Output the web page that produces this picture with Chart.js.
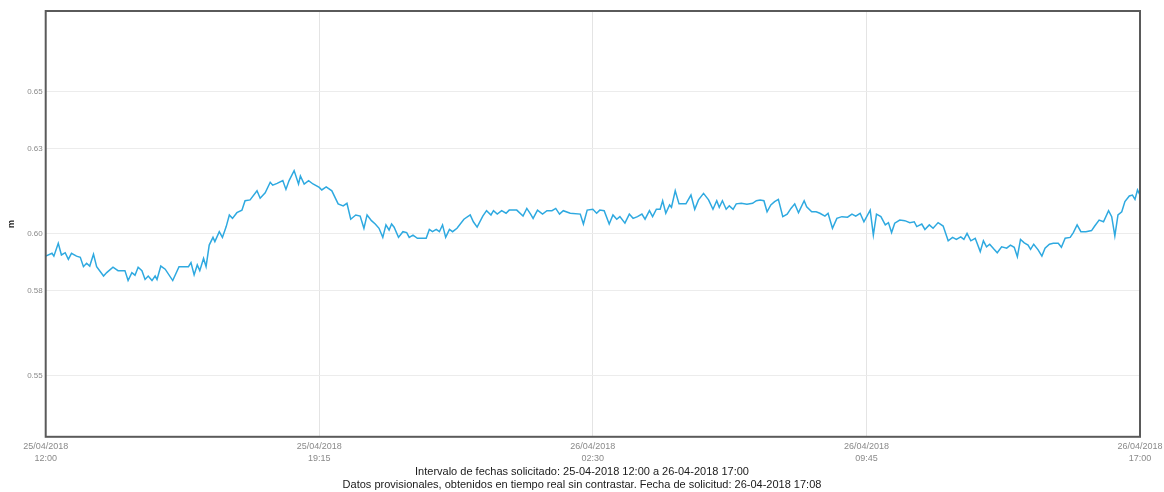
<!DOCTYPE html>
<html>
<head>
<meta charset="utf-8">
<script src="https://cdn.jsdelivr.net/npm/chart.js@4"></script>
<style>
  html, body { margin: 0; padding: 0; background: #ffffff; }
  #wrap { width: 1164px; height: 492px; position: relative; }
</style>
</head>
<body>
<div id="wrap"><canvas id="c"></canvas></div>
<script>
// Minutes elapsed since 25/04/2018 12:00
const minutes = [
  0,10,13,20,25,31,36,41,49,55,60,65,70,76,81,92,97,107,115,126,131,137,142,147,153,158,163,169,174,177,
  183,190,202,212,227,231,236,241,245,251,255,260,266,269,276,281,287,292,297,304,312,317,325,336,341,349,357,361,368,377,
  382,387,395,402,405,411,418,425,435,439,446,455,465,473,479,485,493,500,506,511,518,524,530,536,541,546,550,554,561,568,
  574,578,584,591,605,610,615,621,626,631,636,642,647,654,665,675,680,686,695,701,708,712,718,725,732,737,749,759,765,771,
  775,782,790,797,805,811,817,823,834,850,855,861,870,876,881,888,896,902,908,913,921,928,934,941,948,953,960,965,971,977,
  981,986,992,995,1001,1007,1018,1026,1032,1038,1046,1054,1061,1067,1071,1076,1082,1087,1093,1098,1106,1115,1124,1130,1136,1142,1147,1153,1159,1165,
  1172,1179,1185,1191,1197,1206,1210,1218,1225,1231,1239,1244,1251,1258,1266,1275,1282,1288,1295,1301,1311,1316,1321,1328,1335,1340,1345,1350,1358,1366,
  1374,1381,1385,1393,1398,1405,1411,1419,1427,1435,1442,1448,1455,1460,1465,1471,1478,1486,1491,1496,1501,1508,1513,1520,1528,1534,1540,1545,1550,1556,
  1562,1566,1571,1578,1584,1589,1596,1602,1610,1615,1621,1629,1634,1640,1646,1654,1663,1668,1675,1682,1690,1695,1700,1705,1711,1716,1723,1728,1732,1736,
  1740
];
// Water level (m)
const levels = [
  0.5921,0.5931,0.5921,0.5966,0.5925,0.5933,0.5910,0.5931,0.5921,0.5917,0.5884,0.5896,0.5886,0.5928,0.5884,0.5851,0.5863,0.5882,0.5870,0.5870,0.5835,0.5863,0.5854,0.5882,0.5870,0.5839,0.5851,0.5835,0.5851,0.5839,
  0.5886,0.5875,0.5835,0.5884,0.5884,0.5898,0.5855,0.5890,0.5870,0.5913,0.5884,0.5960,0.5987,0.5972,0.6007,0.5987,0.6025,0.6066,0.6054,0.6074,0.6083,0.6116,0.6119,0.6151,0.6125,0.6144,0.6181,0.6171,0.6177,0.6187,
  0.6156,0.6187,0.6222,0.6175,0.6203,0.6175,0.6187,0.6175,0.6163,0.6154,0.6165,0.6151,0.6105,0.6098,0.6107,0.6051,0.6066,0.6062,0.6019,0.6066,0.6046,0.6034,0.6019,0.5987,0.6031,0.6013,0.6034,0.6023,0.5987,0.6007,
  0.6004,0.5987,0.5995,0.5984,0.5984,0.6015,0.6007,0.6015,0.6007,0.6031,0.5987,0.6015,0.6007,0.6019,0.6051,0.6066,0.6042,0.6023,0.6062,0.6081,0.6066,0.6081,0.6069,0.6081,0.6072,0.6083,0.6083,0.6062,0.6089,0.6069,
  0.6054,0.6083,0.6069,0.6081,0.6081,0.6089,0.6069,0.6081,0.6072,0.6069,0.6034,0.6083,0.6086,0.6072,0.6083,0.6081,0.6034,0.6066,0.6051,0.6060,0.6037,0.6069,0.6054,0.6060,0.6069,0.6051,0.6081,0.6060,0.6086,0.6086,
  0.6116,0.6072,0.6101,0.6093,0.6151,0.6105,0.6105,0.6136,0.6086,0.6119,0.6142,0.6119,0.6086,0.6116,0.6093,0.6116,0.6086,0.6098,0.6086,0.6105,0.6107,0.6104,0.6107,0.6116,0.6119,0.6116,0.6077,0.6101,0.6113,0.6121,
  0.6060,0.6069,0.6089,0.6105,0.6074,0.6116,0.6095,0.6077,0.6077,0.6072,0.6062,0.6072,0.6019,0.6054,0.6060,0.6058,0.6069,0.6062,0.6072,0.6042,0.6083,0.5995,0.6069,0.6060,0.6031,0.6039,0.6004,0.6037,0.6048,0.6046,
  0.6039,0.6042,0.6025,0.6034,0.6015,0.6031,0.6019,0.6039,0.6027,0.5975,0.5987,0.5980,0.5989,0.5980,0.6001,0.5975,0.5984,0.5937,0.5975,0.5954,0.5963,0.5945,0.5933,0.5954,0.5949,0.5960,0.5952,0.5919,0.5980,0.5968,
  0.5960,0.5945,0.5963,0.5943,0.5921,0.5949,0.5963,0.5966,0.5966,0.5952,0.5984,0.5987,0.6004,0.6031,0.6007,0.6007,0.6011,0.6027,0.6048,0.6042,0.6081,0.6060,0.5992,0.6066,0.6077,0.6113,0.6133,0.6136,0.6121,0.6154,
  0.6136
];
const xTickMinutes = [0, 435, 870, 1305, 1740];
const xTickLabels = [
  ["25/04/2018", "12:00"],
  ["25/04/2018", "19:15"],
  ["26/04/2018", "02:30"],
  ["26/04/2018", "09:45"],
  ["26/04/2018", "17:00"]
];
const yTicks = [0.55, 0.58, 0.60, 0.63, 0.65];
const yMin = 0.5285, yMax = 0.6784;
const footerLines = [
  "Intervalo de fechas solicitado: 25-04-2018 12:00 a 26-04-2018 17:00",
  "Datos provisionales, obtenidos en tiempo real sin contrastar. Fecha de solicitud: 26-04-2018 17:08"
];

const frame = {
  id: 'frame',
  afterDraw(chart) {
    const a = chart.chartArea, ctx = chart.ctx;
    ctx.save();
    ctx.strokeStyle = '#5a5a5a';
    ctx.lineWidth = 2;
    ctx.strokeRect(a.left, a.top, a.right - a.left, a.bottom - a.top);
    ctx.restore();
  }
};

new Chart(document.getElementById('c'), {
  type: 'line',
  data: {
    datasets: [{
      data: minutes.map((m, i) => ({ x: m, y: levels[i] })),
      borderColor: '#2ea9e0',
      borderWidth: 1.5,
      pointRadius: 0,
      tension: 0,
      fill: false
    }]
  },
  options: {
    responsive: true,
    maintainAspectRatio: false,
    animation: false,
    layout: { padding: { left: 0, right: 0, top: 11, bottom: 0 } },
    plugins: {
      legend: { display: false },
      tooltip: { enabled: false },
      title: {
        display: true,
        position: 'bottom',
        text: footerLines,
        color: '#1a1a1a',
        font: { family: 'Liberation Sans', size: 11, weight: 'normal', lineHeight: 1.2 },
        padding: { top: 0, bottom: 0 }
      }
    },
    scales: {
      x: {
        type: 'linear',
        min: 0,
        max: 1740,
        afterBuildTicks: s => { s.ticks = xTickMinutes.map(v => ({ value: v })); },
        afterFit: s => { s.height = 28.8; s.paddingLeft = 0; s.paddingRight = 0; },
        ticks: {
          autoSkip: false,
          maxRotation: 0,
          padding: 4,
          color: '#8a8a8a',
          font: { family: 'Liberation Sans', size: 9, lineHeight: 1.333 },
          callback: (v, i) => xTickLabels[i]
        },
        grid: { color: '#e4e4e4', lineWidth: 1, drawTicks: false },
        border: { display: false }
      },
      y: {
        type: 'linear',
        min: yMin,
        max: yMax,
        afterBuildTicks: s => { s.ticks = yTicks.map(v => ({ value: v })); },
        afterFit: s => { s.width = 45.7; },
        ticks: {
          padding: 3,
          color: '#8a8a8a',
          font: { family: 'Liberation Sans', size: 8 },
          callback: v => Number(v).toFixed(2)
        },
        grid: { color: '#ececec', lineWidth: 1, drawTicks: false },
        border: { display: false },
        title: {
          display: true,
          text: 'm',
          color: '#222222',
          font: { family: 'Liberation Sans', size: 9, weight: 'bold' },
          padding: { top: 6, bottom: 0 }
        }
      },
      yRight: {
        type: 'linear',
        position: 'right',
        min: yMin,
        max: yMax,
        afterFit: s => { s.width = 24; },
        ticks: { display: false },
        grid: { display: false, drawTicks: false },
        border: { display: false }
      }
    }
  },
  plugins: [frame]
});
</script>
</body>
</html>
